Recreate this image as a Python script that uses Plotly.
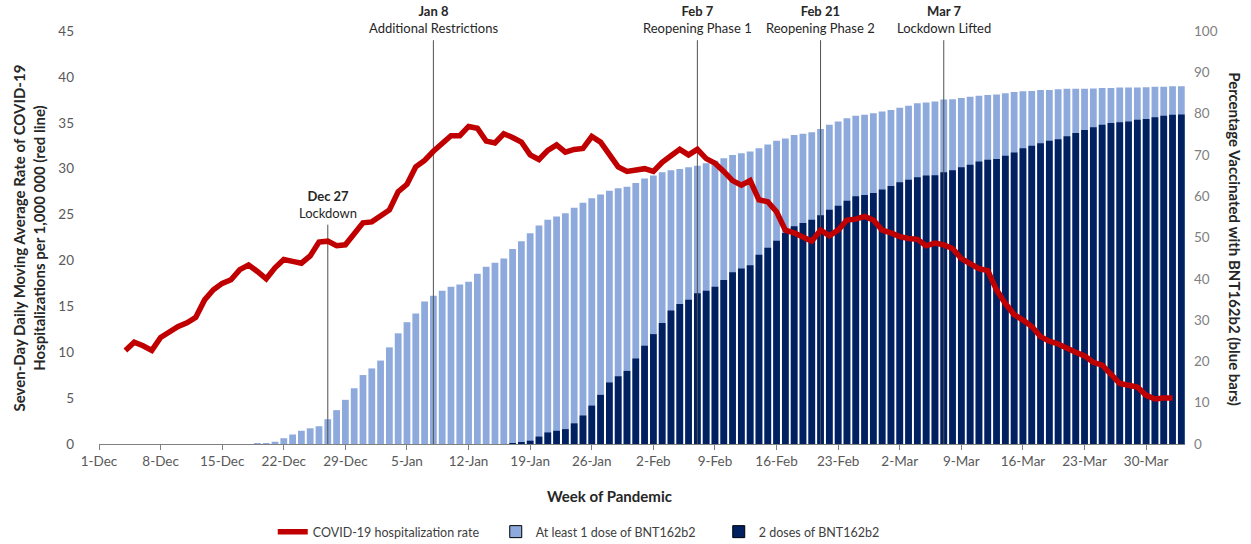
import pandas as pd
import plotly.graph_objects as go

# ---------------- data ----------------
# Seven-day moving average hospitalization rate per 1,000,000 (daily, 4-Dec-2020 .. 2-Apr-2021)
hosp_start = "2020-12-04"
hosp_rate = [
    10.2, 11.1, 10.7, 10.2, 11.6, 12.2, 12.8, 13.2, 13.8, 15.7,
    16.8, 17.5, 17.9, 19.0, 19.5, 18.8, 18.0, 19.2, 20.1, 19.9,
    19.7, 20.5, 22.0, 22.1, 21.6, 21.7, 22.8, 24.1, 24.2, 24.8,
    25.5, 27.5, 28.3, 30.2, 30.9, 31.9, 32.7, 33.6, 33.6, 34.6,
    34.4, 33.0, 32.8, 33.8, 33.4, 32.9, 31.5, 31.0, 32.0, 32.6,
    31.8, 32.1, 32.2, 33.5, 32.9, 31.5, 30.2, 29.7, 29.9, 30.0,
    29.7, 30.7, 31.4, 32.1, 31.5, 32.1, 31.1, 30.6, 29.7, 28.7,
    28.2, 28.7, 26.6, 26.4, 25.3, 23.3, 23.0, 22.5, 22.1, 23.3,
    22.7, 23.3, 24.4, 24.5, 24.8, 24.4, 23.3, 23.0, 22.6, 22.4,
    22.3, 21.6, 21.9, 21.7, 21.3, 20.2, 19.6, 19.1, 18.9, 16.8,
    15.3, 14.1, 13.5, 12.8, 11.7, 11.2, 10.9, 10.4, 10.0, 9.6,
    8.9, 8.6, 7.5, 6.6, 6.4, 6.2, 5.3, 4.9, 5.0, 5.0,
]

# Percentage with at least one dose (daily, 19-Dec-2020 .. 3-Apr-2021)
dose1_start = "2020-12-19"
dose1_pct = [
    0.1, 0.2, 0.55, 1.4, 2.3, 3.2, 3.8, 4.3, 6.0, 8.2,
    10.7, 13.5, 16.7, 18.3, 20.2, 23.4, 26.8, 29.5, 31.6, 34.5,
    35.9, 37.1, 38.1, 38.6, 39.3, 41.2, 42.9, 43.9, 44.9, 47.2,
    49.1, 51.0, 52.9, 54.3, 55.1, 55.9, 57.2, 58.4, 59.5, 60.4,
    61.3, 61.9, 62.3, 63.2, 64.3, 65.0, 65.8, 66.3, 66.6, 67.0,
    67.4, 68.0, 68.6, 69.2, 70.0, 70.4, 70.8, 71.6, 72.5, 73.4,
    74.0, 74.8, 75.1, 75.5, 76.3, 77.3, 78.1, 78.9, 79.5, 79.7,
    80.1, 80.5, 80.9, 81.4, 81.9, 82.5, 82.7, 82.9, 83.4, 83.5,
    83.8, 84.1, 84.3, 84.5, 84.6, 84.9, 85.2, 85.4, 85.5, 85.7,
    85.7, 85.9, 86.0, 86.0, 86.0, 86.1, 86.2, 86.2, 86.3, 86.3,
    86.3, 86.4, 86.5, 86.5, 86.6, 86.6,
]

# Percentage with two doses (daily, 17-Jan-2021 .. 3-Apr-2021)
dose2_start = "2021-01-17"
dose2_pct = [
    0.1, 0.4, 0.8, 1.8, 2.8, 3.2, 3.6, 5.0, 6.9, 9.3,
    11.9, 14.9, 16.4, 17.7, 20.7, 23.8, 26.6, 29.3, 32.3, 33.9,
    34.9, 36.5, 37.1, 38.1, 39.7, 41.6, 42.5, 43.3, 45.8, 47.5,
    49.2, 51.1, 52.7, 53.5, 54.3, 55.4, 56.7, 57.7, 58.9, 60.0,
    60.3, 60.8, 61.6, 62.5, 63.4, 64.0, 64.6, 65.0, 65.1, 65.8,
    66.3, 67.0, 67.6, 68.4, 68.8, 69.0, 69.8, 70.6, 71.6, 72.2,
    72.8, 73.4, 73.8, 74.5, 75.3, 76.0, 76.7, 77.3, 77.7, 77.9,
    78.1, 78.5, 78.7, 79.1, 79.5, 79.7, 79.8,
]

# Policy events
event_dates = ["2020-12-27", "2021-01-08", "2021-02-07", "2021-02-21", "2021-03-07"]
event_titles = ["Dec 27", "Jan 8", "Feb 7", "Feb 21", "Mar 7"]
event_labels = ["Lockdown", "Additional Restrictions", "Reopening Phase 1",
                "Reopening Phase 2", "Lockdown Lifted"]
event_tops = [23.9, 44.0, 44.0, 44.0, 44.0]   # top of marker line (left-axis units)

legend_names = ["COVID-19 hospitalization rate", "At least 1 dose of BNT162b2",
                "2 doses of BNT162b2"]

# ---------------- styling ----------------
RED = "#c00000"
LIGHT = "#8eaadc"
DARK = "#002060"
GRAY = "#595959"
FONT = "Lato, 'Open Sans', sans-serif"

hosp_x = pd.date_range(hosp_start, periods=len(hosp_rate), freq="D")
d1_x = pd.date_range(dose1_start, periods=len(dose1_pct), freq="D")
d2_x = pd.date_range(dose2_start, periods=len(dose2_pct), freq="D")

fig = go.Figure()

# bars on the primary (right-side) axis so the line overlays them
fig.add_trace(go.Bar(x=d1_x, y=dose1_pct, marker=dict(color=LIGHT, line=dict(width=0)),
                     yaxis="y", showlegend=False, name=legend_names[1]))
fig.add_trace(go.Bar(x=d2_x, y=dose2_pct, marker=dict(color=DARK, line=dict(width=0)),
                     yaxis="y", showlegend=False, name=legend_names[2]))

# event marker lines
for d, top in zip(event_dates, event_tops):
    fig.add_trace(go.Scatter(x=[d, d], y=[0, top], mode="lines", yaxis="y2",
                             line=dict(color="#505050", width=1), showlegend=False,
                             hoverinfo="skip"))

# hospitalization line
fig.add_trace(go.Scatter(x=hosp_x, y=hosp_rate, mode="lines", yaxis="y2",
                         line=dict(color=RED, width=5.5), name=legend_names[0]))

# legend-only swatches with dark outline
fig.add_trace(go.Bar(x=[None], y=[None], name=legend_names[1], yaxis="y",
                     marker=dict(color=LIGHT, line=dict(color="#000000", width=1))))
fig.add_trace(go.Bar(x=[None], y=[None], name=legend_names[2], yaxis="y",
                     marker=dict(color=DARK, line=dict(color="#000000", width=1))))

annotations = []
for d, t, lab, top in zip(event_dates, event_titles, event_labels, event_tops):
    annotations.append(dict(x=d, y=top + 0.2, xref="x", yref="y2", yanchor="bottom",
                            xanchor="center", showarrow=False,
                            text=f"<b>{t}</b><br>{lab}",
                            font=dict(size=13, color="#262626", family=FONT)))

annotations += [
    dict(x=-0.0645, y=0.50, xref="paper", yref="paper", textangle=-90, showarrow=False,
         xanchor="center", yanchor="middle",
         text="<b>Seven-Day Daily Moving Average Rate of COVID-19<br>"
              "Hospitalizations per 1,000 000 (red line)</b>",
         font=dict(size=15, color="#262626", family=FONT)),
    dict(x=1.046, y=0.496, xref="paper", yref="paper", textangle=90, showarrow=False,
         xanchor="center", yanchor="middle",
         text="<b>Percentage Vaccinated with BNT162b2 (blue bars)</b>",
         font=dict(size=15, color="#262626", family=FONT)),
    dict(x=0.4705, y=-0.126, xref="paper", yref="paper", showarrow=False,
         xanchor="center", yanchor="middle",
         text="<b>Week of Pandemic</b>",
         font=dict(size=15, color="#262626", family=FONT)),
]

fig.update_layout(
    width=1251, height=544,
    margin=dict(l=99, r=66, t=31, b=100, autoexpand=False),
    plot_bgcolor="white", paper_bgcolor="white",
    barmode="overlay", bargap=0.23,
    font=dict(family=FONT, size=13, color=GRAY),
    xaxis=dict(type="date", range=["2020-12-01", "2021-04-03 10:00"],
               tick0="2020-12-01", dtick=7 * 86400000, tickformat="%-d-%b",
               ticks="outside", ticklen=5, tickcolor="#808080",
               showline=True, linecolor="#808080", linewidth=1,
               showgrid=False, zeroline=False,
               tickfont=dict(size=13.5, color=GRAY)),
    yaxis=dict(side="right", range=[0, 100], dtick=10, showgrid=False,
               showline=False, zeroline=False, ticks="",
               ticklabelstandoff=8, tickfont=dict(size=13.5, color="#808080")),
    yaxis2=dict(side="left", overlaying="y", range=[0, 45], dtick=5,
                showgrid=False, showline=False, zeroline=False, ticks="",
                ticklabelstandoff=24, tickfont=dict(size=13.5, color=GRAY)),
    legend=dict(orientation="h", x=0.468, xanchor="center", y=-0.2131,
                yanchor="middle", font=dict(size=12.5, color="#404040"),
                bgcolor="rgba(0,0,0,0)", entrywidth=178),
    annotations=annotations,
    hovermode=False,
)

fig.write_html("out.html", post_script="document.body.style.margin='0';",
               config={"displayModeBar": False})
